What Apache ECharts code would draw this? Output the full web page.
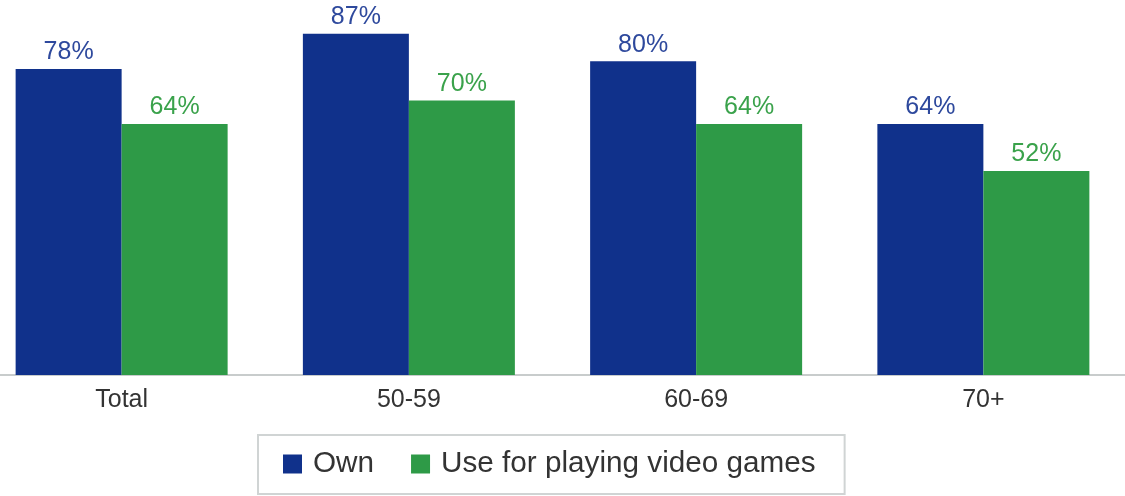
<!DOCTYPE html>
<html><head><meta charset="utf-8">
<script src="https://cdn.jsdelivr.net/npm/echarts@6/dist/echarts.min.js"></script>
<style>html,body{margin:0;padding:0;background:#fff}#c{width:1125px;height:496px}</style>
</head><body><div id="c"></div>
<script>
const categories = ['Total', '50-59', '60-69', '70+'];
const ownValues = [78, 87, 80, 64];
const gameValues = [64, 70, 64, 52];
const seriesNames = ['Own', 'Use for playing video games'];

const chart = echarts.init(document.getElementById('c'));
const font = 'Liberation Sans';
chart.setOption({
  animation: false,
  grid: { left: -22, right: -2, top: 22, bottom: 121, outerBoundsMode: 'none', containLabel: false },
  legend: {
    left: 258, top: 435,
    padding: [14, 29, 15, 25],
    borderColor: '#d0d4d4', borderWidth: 2,
    itemWidth: 19, itemHeight: 19, itemGap: 37,
    icon: 'rect',
    textStyle: { fontFamily: font, fontSize: 29.7, color: '#333', padding: [0, 0, 0, 6] },
    data: seriesNames
  },
  xAxis: {
    type: 'category', data: categories,
    axisLine: { lineStyle: { color: '#c8cccc', width: 2 } },
    axisTick: { show: false },
    axisLabel: { fontFamily: font, fontSize: 25, color: '#333', margin: 13 }
  },
  yAxis: { type: 'value', min: 0, max: 90, show: false, splitLine: { show: false } },
  series: [
    {
      name: seriesNames[0], type: 'bar', data: ownValues, barWidth: 106, barGap: '0%',
      itemStyle: { color: '#10318b' },
      label: { show: true, position: 'top', distance: 4, formatter: '{c}%',
        fontFamily: font, fontSize: 25, color: '#2e499d' }
    },
    {
      name: seriesNames[1], type: 'bar', data: gameValues, barWidth: 106,
      itemStyle: { color: '#2e9a47' },
      label: { show: true, position: 'top', distance: 4, formatter: '{c}%',
        fontFamily: font, fontSize: 25, color: '#3aa24b' }
    }
  ]
});
</script></body></html>
